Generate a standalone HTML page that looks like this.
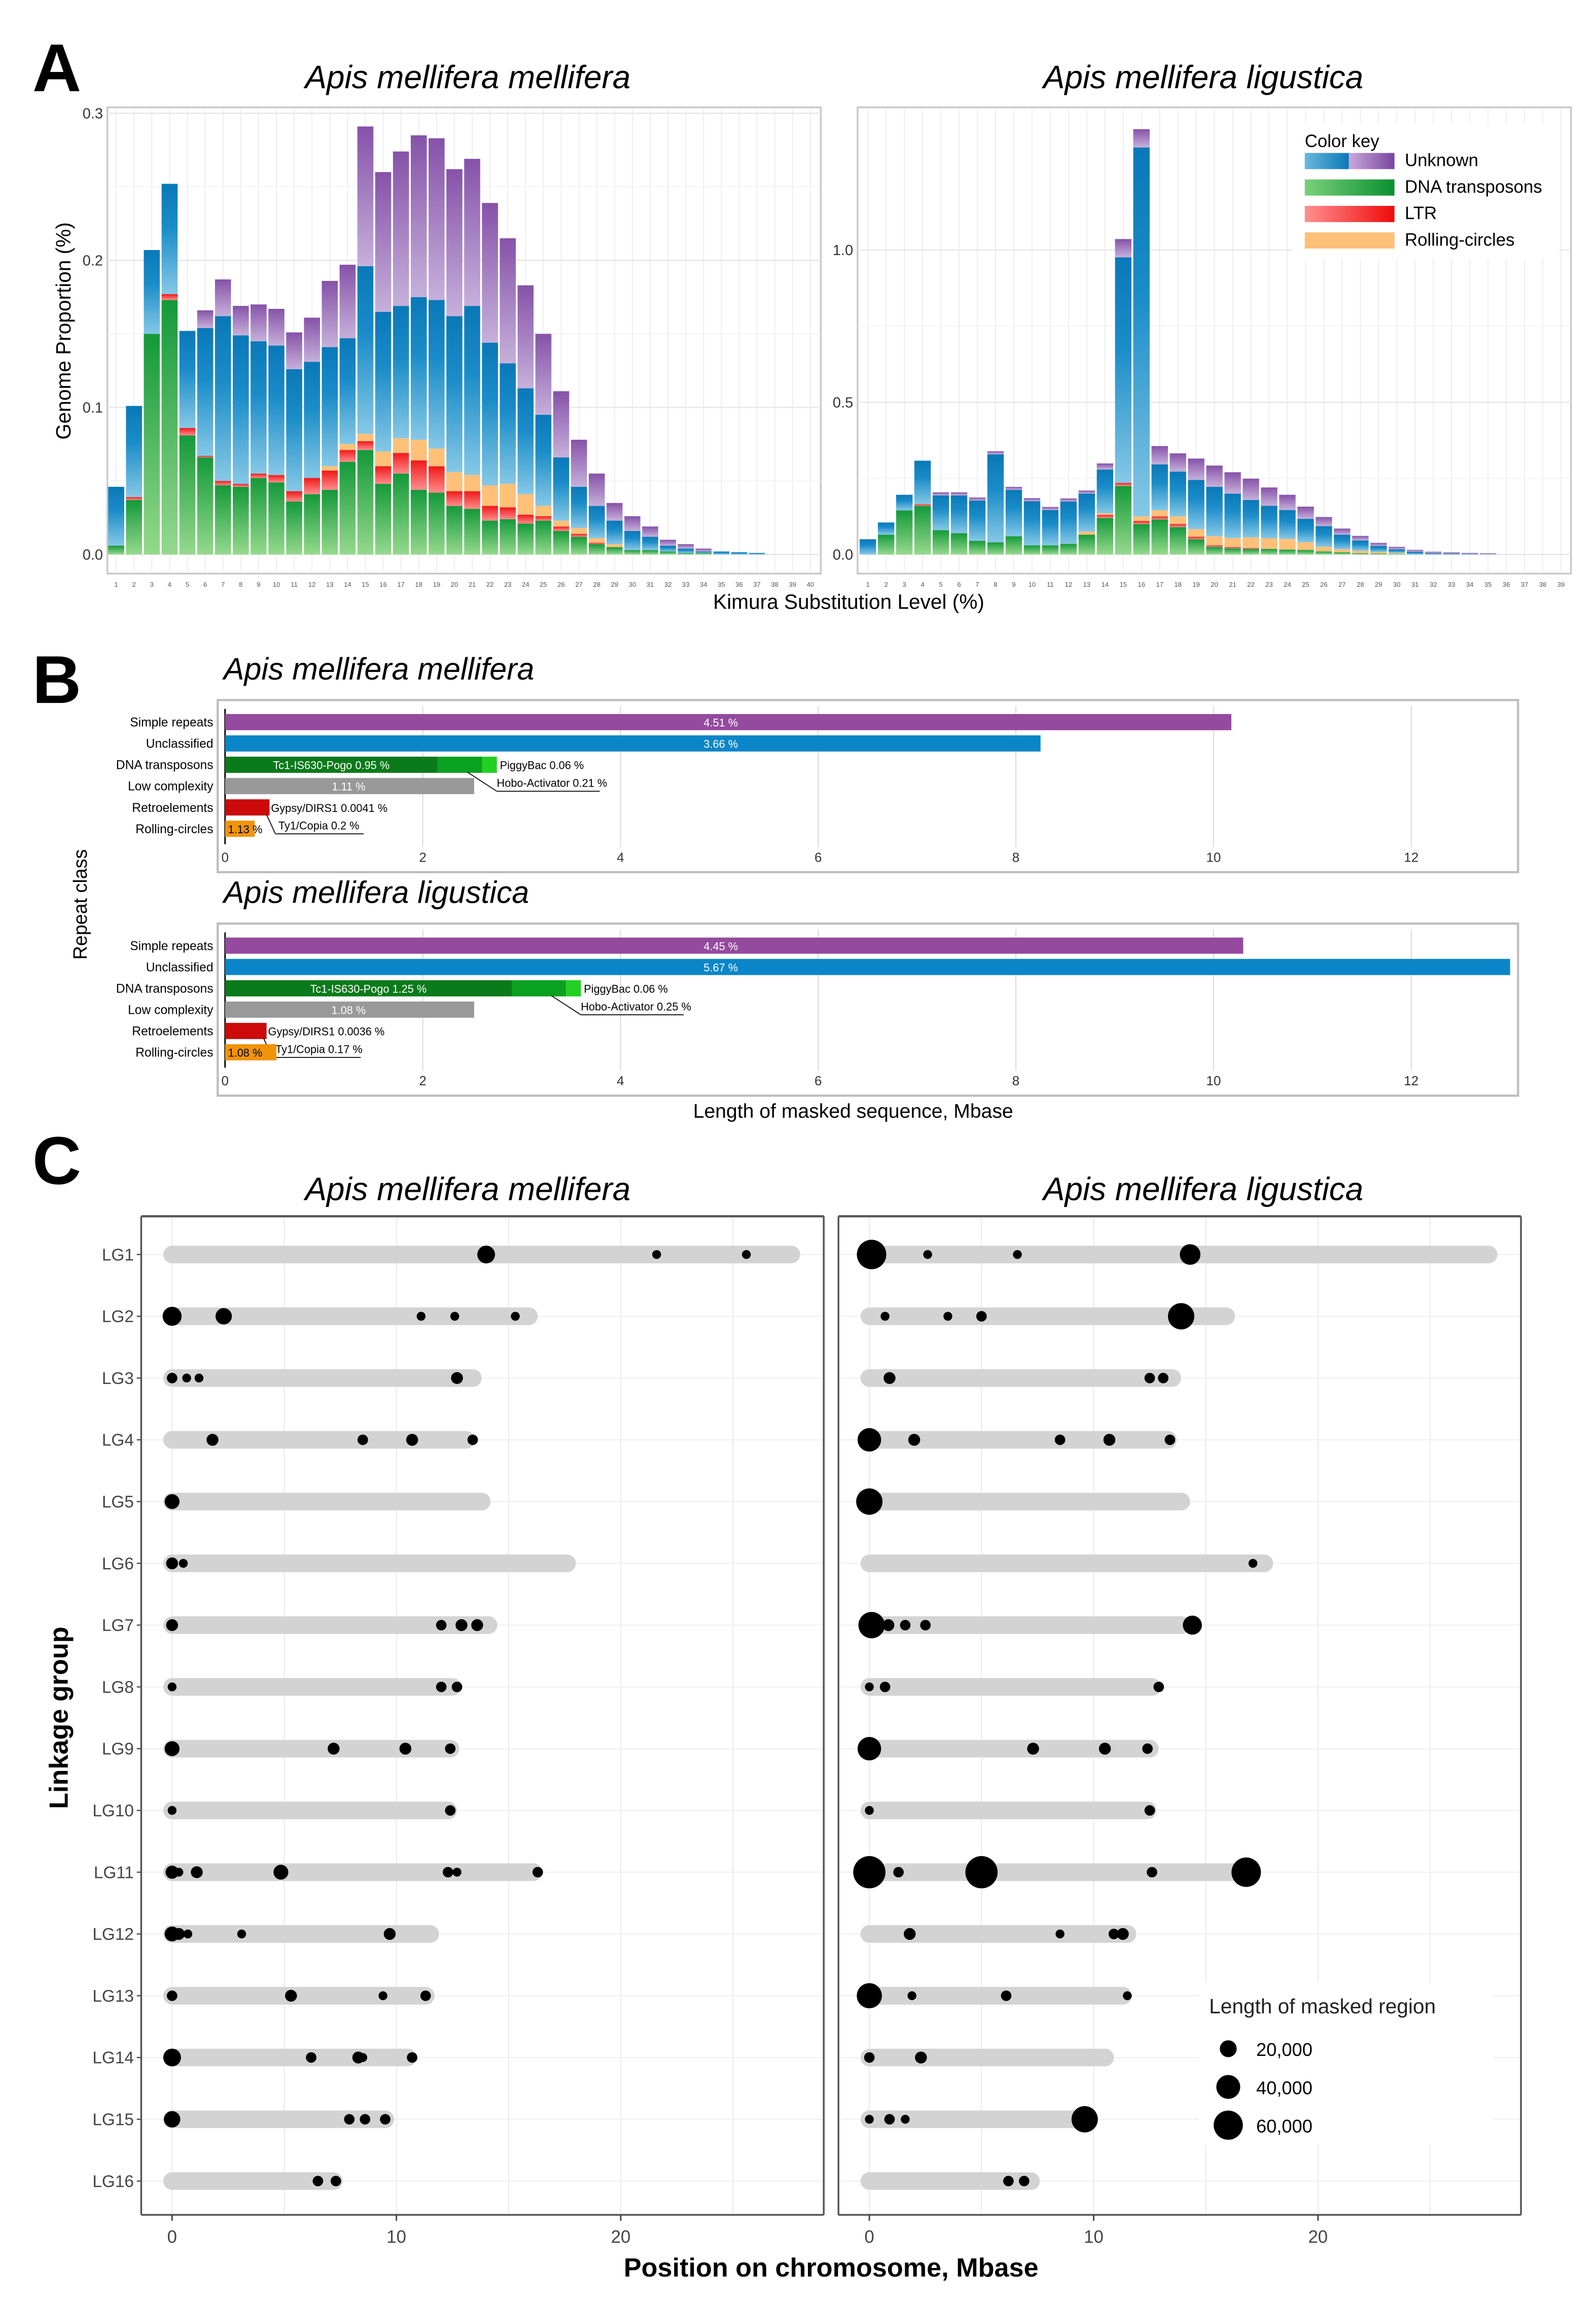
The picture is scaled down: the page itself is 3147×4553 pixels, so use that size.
<!DOCTYPE html>
<html><head><meta charset="utf-8"><style>
html,body{margin:0;padding:0;background:#fff;}
svg{display:block;font-family:"Liberation Sans",sans-serif;}
</style></head><body>
<svg id="fig" xmlns="http://www.w3.org/2000/svg" width="3147" height="4553" viewBox="0 0 1085 1570" preserveAspectRatio="none">
<defs>
<linearGradient id="gGreen" x1="0" y1="1" x2="0" y2="0"><stop offset="0" stop-color="#95d98c"/><stop offset="1" stop-color="#14993a"/></linearGradient>
<linearGradient id="gBlue" x1="0" y1="1" x2="0" y2="0"><stop offset="0" stop-color="#86c8e6"/><stop offset="0.6" stop-color="#1a8cc8"/><stop offset="1" stop-color="#0a78b8"/></linearGradient>
<linearGradient id="gPurple" x1="0" y1="1" x2="0" y2="0"><stop offset="0" stop-color="#c6b0db"/><stop offset="1" stop-color="#8652a8"/></linearGradient>
<linearGradient id="gRed" x1="0" y1="1" x2="0" y2="0"><stop offset="0" stop-color="#ff8c8c"/><stop offset="1" stop-color="#f01818"/></linearGradient>
<linearGradient id="hBlue" x1="0" y1="0" x2="1" y2="0"><stop offset="0" stop-color="#6ab8dc"/><stop offset="1" stop-color="#0a78b8"/></linearGradient>
<linearGradient id="hPurple" x1="0" y1="0" x2="1" y2="0"><stop offset="0" stop-color="#c8a8d8"/><stop offset="1" stop-color="#7a44a0"/></linearGradient>
<linearGradient id="hGreen" x1="0" y1="0" x2="1" y2="0"><stop offset="0" stop-color="#7ad07a"/><stop offset="1" stop-color="#0a9030"/></linearGradient>
<linearGradient id="hRed" x1="0" y1="0" x2="1" y2="0"><stop offset="0" stop-color="#ff9090"/><stop offset="1" stop-color="#f00a0a"/></linearGradient>
</defs>
<g id="root"></g>
</svg>
<script>
// ---------- Panel A data ----------
const aLeftTotal=[0.046,0.101,0.207,0.252,0.152,0.166,0.187,0.169,0.170,0.167,0.151,0.161,0.186,0.197,0.291,0.260,0.274,0.285,0.283,0.262,0.269,0.239,0.215,0.183,0.150,0.111,0.078,0.055,0.035,0.026,0.019,0.010,0.007,0.004,0.002,0.0015,0.001,0,0,0];
const aLeftDNA=[0.006,0.037,0.150,0.173,0.081,0.066,0.047,0.046,0.052,0.049,0.036,0.041,0.044,0.063,0.071,0.048,0.055,0.044,0.042,0.033,0.031,0.023,0.024,0.021,0.023,0.016,0.012,0.007,0.005,0.003,0.003,0.002,0.001,0.001,0,0,0,0,0,0];
const aLeftLTR=[0,0.002,0,0.004,0.005,0.001,0.003,0.002,0.003,0.005,0.007,0.011,0.013,0.008,0.006,0.012,0.014,0.020,0.018,0.010,0.012,0.010,0.008,0.006,0.003,0.003,0.002,0.001,0,0,0,0,0,0,0,0,0,0,0,0];
const aLeftRC=[0,0,0,0,0,0,0,0,0,0,0,0,0.003,0.004,0.005,0.010,0.010,0.014,0.012,0.013,0.011,0.014,0.016,0.014,0.007,0.004,0.004,0.003,0.002,0,0,0,0,0,0,0,0,0,0,0];
const aLeftPurple=[0,0,0,0,0,0.012,0.025,0.02,0.025,0.025,0.025,0.03,0.045,0.05,0.095,0.095,0.105,0.11,0.11,0.1,0.1,0.095,0.085,0.07,0.055,0.045,0.032,0.022,0.012,0.01,0.007,0.004,0.003,0.002,0,0,0,0,0,0];
const aRightTotal=[0.05,0.105,0.196,0.308,0.204,0.204,0.187,0.339,0.222,0.185,0.156,0.184,0.21,0.299,1.036,1.397,0.356,0.332,0.315,0.292,0.27,0.249,0.22,0.196,0.157,0.123,0.085,0.061,0.038,0.025,0.015,0.009,0.007,0.005,0.004,0,0,0,0];
const aRightDNA=[0,0.065,0.145,0.16,0.08,0.07,0.045,0.04,0.06,0.03,0.03,0.035,0.065,0.12,0.225,0.1,0.115,0.09,0.05,0.025,0.02,0.018,0.018,0.016,0.015,0.01,0.007,0.004,0.003,0.002,0,0,0,0,0,0,0,0,0];
const aRightLTR=[0,0,0,0.005,0,0,0,0,0,0,0,0,0,0.01,0.01,0.01,0.01,0.01,0.008,0.005,0.004,0.003,0,0,0,0,0,0,0,0,0,0,0,0,0,0,0,0,0];
const aRightRC=[0,0,0,0,0,0,0,0,0,0,0,0,0.01,0.005,0,0.015,0.02,0.025,0.025,0.03,0.03,0.035,0.035,0.035,0.025,0.015,0.01,0.008,0.005,0.003,0,0,0,0,0,0,0,0,0];
const aRightPurple=[0,0,0,0,0.01,0.01,0.01,0.01,0.01,0.01,0.01,0.01,0.01,0.02,0.06,0.06,0.06,0.06,0.07,0.07,0.07,0.07,0.06,0.05,0.04,0.03,0.02,0.015,0.01,0.008,0.006,0.005,0.004,0.003,0.003,0,0,0,0];
const aLeftTicks=[0,0.1,0.2,0.3];
const aRightTicks=[0,0.5,1.0];

// ---------- Panel B data ----------
const bClasses=["Simple repeats","Unclassified","DNA transposons","Low complexity","Retroelements","Rolling-circles"];
const bTop=[10.18,8.25,2.15,2.52,0.45,0.30];
const bTopDNA2=[2.6,2.75];
const bBot=[10.3,13.0,2.9,2.52,0.42,0.52];
const bBotDNA2=[3.45,3.6];
const bTicks=[0,2,4,6,8,10,12];

// ---------- Panel C data ----------
const lgNames=["LG1","LG2","LG3","LG4","LG5","LG6","LG7","LG8","LG9","LG10","LG11","LG12","LG13","LG14","LG15","LG16"];
const cLenL=[28.0,16.3,13.8,13.5,14.2,18.0,14.5,12.9,12.8,12.7,16.5,11.9,11.7,10.9,9.9,7.6];
const cLenR=[28.0,16.3,13.9,13.7,14.3,18.0,14.3,13.0,12.9,12.8,16.8,11.9,11.7,10.9,9.9,7.6];
const cDotsL=[
[[14.0,20],[21.6,5],[25.6,5]],
[[0,23],[2.3,17],[11.1,5],[12.6,5],[15.3,5]],
[[0,7],[0.65,5],[1.2,5],[12.7,9]],
[[1.8,9],[8.5,7],[10.7,9],[13.4,7]],
[[0,14]],
[[0,9],[0.5,5]],
[[0,9],[12.0,7],[12.9,9],[13.6,9]],
[[0,5],[12.0,7],[12.7,7]],
[[0,14],[7.2,9],[10.4,9],[12.4,7]],
[[0,5],[12.4,7]],
[[0,11],[0.3,5],[1.1,9],[4.85,14],[12.3,7],[12.7,5],[16.3,7]],
[[0,14],[0.3,9],[0.7,5],[3.1,5],[9.7,9]],
[[0,7],[5.3,9],[9.4,5],[11.3,7]],
[[0,20],[6.2,7],[8.3,9],[8.5,5],[10.7,7]],
[[0,17],[7.9,7],[8.6,7],[9.5,7]],
[[6.5,7],[7.3,7]]];
const cDotsR=[
[[0.1,55],[2.6,5],[6.6,5],[14.3,27]],
[[0.7,5],[3.5,5],[5.0,7],[13.9,44]],
[[0.9,9],[12.5,7],[13.1,7]],
[[0,35],[2.0,9],[8.5,7],[10.7,9],[13.4,7]],
[[0,44]],
[[17.1,5]],
[[0.1,44],[0.85,9],[1.6,7],[2.5,7],[14.4,23]],
[[0,5],[0.7,7],[12.9,7]],
[[0,35],[7.3,9],[10.5,9],[12.4,7]],
[[0,5],[12.5,7]],
[[0,66],[1.3,7],[5.0,66],[12.6,7],[16.8,55]],
[[1.8,9],[8.5,5],[10.9,7],[11.3,9]],
[[0,40],[1.9,5],[6.1,7],[11.5,5]],
[[0,7],[2.3,9]],
[[0,5],[0.9,7],[1.6,5],[9.6,44]],
[[6.2,7],[6.9,7]]];
const cLegendSizes=[20,40,60];
const cLegendLabels=["20,000","40,000","60,000"];

const NS="http://www.w3.org/2000/svg";
const root=document.getElementById('root');
function el(tag,attrs,parent){const e=document.createElementNS(NS,tag);for(const k in attrs)e.setAttribute(k,attrs[k]);(parent||root).appendChild(e);return e;}
function txt(s,attrs,parent){const e=el('text',attrs,parent);e.textContent=s;return e;}

let t;
t=txt("A",{x:22,y:62,"font-size":46,"font-weight":"bold"});

t=txt("B",{x:22,y:478,"font-size":46,"font-weight":"bold"});

t=txt("C",{x:22,y:805,"font-size":46,"font-weight":"bold"});

t=txt("Apis mellifera mellifera",{x:318,y:60,"font-size":22,"font-style":"italic","text-anchor":"middle"});

t=txt("Apis mellifera ligustica",{x:818,y:60,"font-size":22,"font-style":"italic","text-anchor":"middle"});


// ---------- Panel A ----------
function drawA(px0,px1,y0v,yScale,n,x0,step,total,dna,ltr,rc,purple,ticks,name){
  const g=el('g',{});
  
  el('rect',{x:px0,y:73,width:px1-px0,height:317,fill:"#fff",stroke:"#c8c8c8","stroke-width":1.2},g);
  const yv=v=>y0v-v*yScale;
  for(let i=0;i<n;i++){const x=x0+i*step;el('line',{x1:x,x2:x,y1:74,y2:389,stroke:"#ececec","stroke-width":0.6},g);}
  ticks.forEach((tv,i)=>{const y=yv(tv);el('line',{x1:px0,x2:px1,y1:y,y2:y,stroke:"#e6e6e6","stroke-width":0.8},g);
    const tl=txt(tv.toFixed(1),{x:px0-3,y:y+3.5,"font-size":10,"text-anchor":"end",fill:"#333"},g);
    
    if(i<ticks.length-1){const ym=yv((tv+ticks[i+1])/2);el('line',{x1:px0,x2:px1,y1:ym,y2:ym,stroke:"#f2f2f2","stroke-width":0.6},g);}
  });
  const bw=step*0.9;
  for(let i=0;i<n;i++){
    const cx=x0+i*step;
    const segs=[[dna[i],"url(#gGreen)"],[ltr[i],"url(#gRed)"],[rc[i],"#ffc078"]];
    let other=dna[i]+ltr[i]+rc[i];
    let blue=Math.max(0,total[i]-other-purple[i]);
    segs.push([blue,"url(#gBlue)"]);segs.push([Math.min(purple[i],Math.max(0,total[i]-other)),"url(#gPurple)"]);
    let acc=0;
    segs.forEach(s=>{if(s[0]<=0)return;const r=el('rect',{x:cx-bw/2,y:yv(acc+s[0]),width:bw,height:s[0]*yScale,fill:s[1]},g);
      acc+=s[0];});
    const tl=txt(String(i+1),{x:cx,y:399,"font-size":4.5,"text-anchor":"middle",fill:"#555"},g);
    
  }
}
drawA(73,558,377,1000,40,79,12.1,aLeftTotal,aLeftDNA,aLeftLTR,aLeftRC,aLeftPurple,aLeftTicks,'chart-a-mellifera');
drawA(583,1068,377,207,39,590,12.4,aRightTotal,aRightDNA,aRightLTR,aRightRC,aRightPurple,aRightTicks,'chart-a-ligustica');
t=txt("Genome Proportion (%)",{x:0,y:0,"font-size":14,"text-anchor":"middle",transform:"translate(48,225) rotate(-90)"});

t=txt("Kimura Substitution Level (%)",{x:577,y:414,"font-size":14,"text-anchor":"middle"});

const key=el('g',{});
el('rect',{x:878,y:84,width:182,height:92,fill:"#fff"},key);
txt("Color key",{x:887,y:100,"font-size":12},key);
el('rect',{x:887,y:104,width:30,height:11,fill:"url(#hBlue)"},key);
el('rect',{x:917,y:104,width:31,height:11,fill:"url(#hPurple)"},key);
el('rect',{x:887,y:122,width:61,height:11,fill:"url(#hGreen)"},key);
el('rect',{x:887,y:140,width:61,height:11,fill:"url(#hRed)"},key);
el('rect',{x:887,y:158,width:61,height:11,fill:"#ffc078"},key);
["Unknown","DNA transposons","LTR","Rolling-circles"].forEach((s,i)=>{const l=txt(s,{x:955,y:113+i*18,"font-size":12},key);
  });

// ---------- Panel B ----------
function drawB(top,vals,dna2,title,name){
  const g=el('g',{});
  const tt=txt(title,{x:152,y:top-14,"font-size":21,"font-style":"italic"},g);
  
  el('rect',{x:148,y:top,width:884,height:117,fill:"#fff",stroke:"#bdbdbd","stroke-width":1.5},g);
  const xs=v=>153+v*67.2;
  bTicks.forEach(tv=>{const x=xs(tv);if(tv>0)el('line',{x1:x,x2:x,y1:top+4,y2:top+100,stroke:"#dedede","stroke-width":0.8},g);
    const l=txt(String(tv),{x:x,y:top+110,"font-size":9,"text-anchor":"middle",fill:"#333"},g);
    });
  el('line',{x1:153,x2:153,y1:top+6,y2:top+98,stroke:"#000","stroke-width":1},g);
  const fills=["#944a9e","#0a86c8","#0a7a1a","#999999","#cc0a0a","#f0940a"];
  const mell=name.includes('mell');
  const labels=[mell?"4.51 %":"4.45 %",mell?"3.66 %":"5.67 %",null,mell?"1.11 %":"1.08 %",null,null];
  bClasses.forEach((c,i)=>{const y=top+15+i*14.5;
    const l=txt(c,{x:145,y:y+3,"font-size":8.5,"text-anchor":"end"},g);
    const r=el('rect',{x:153,y:y-5.5,width:xs(vals[i])-153,height:11,fill:fills[i]},g);
    
    if(labels[i]){const bl=txt(labels[i],{x:(i<2?490:237),y:y+3,"font-size":7.5,"text-anchor":"middle",fill:"#fff"},g);
      }
    if(i===2){const r2=el('rect',{x:xs(vals[2]),y:y-5.5,width:xs(dna2[0])-xs(vals[2]),height:11,fill:"#0aa020"},g);
      
      const r3=el('rect',{x:xs(dna2[0]),y:y-5.5,width:xs(dna2[1])-xs(dna2[0]),height:11,fill:"#22d022"},g);
      
      txt("Tc1-IS630-Pogo "+(mell?"0.95 %":"1.25 %"),{x:(153+xs(vals[2]))/2,y:y+3,"font-size":7.5,"text-anchor":"middle",fill:"#fff"},g);
      txt("PiggyBac 0.06 %",{x:xs(dna2[1])+2,y:y+3,"font-size":7.5},g);
      const hx=xs(dna2[0])-10;el('line',{x1:hx,y1:y+5,x2:hx+20,y2:y+18,stroke:"#000","stroke-width":0.6},g);
      el('line',{x1:hx+20,y1:y+18,x2:hx+90,y2:y+18,stroke:"#000","stroke-width":0.6},g);
      txt("Hobo-Activator "+(mell?"0.21 %":"0.25 %"),{x:hx+20,y:y+15,"font-size":7.5},g);}
    if(i===4){txt("Gypsy/DIRS1 "+(mell?"0.0041 %":"0.0036 %"),{x:xs(vals[4])+1,y:y+3,"font-size":7.5},g);
      const hx=xs(vals[4])-2;el('line',{x1:hx,y1:y+5,x2:hx+6,y2:y+18,stroke:"#000","stroke-width":0.6},g);
      el('line',{x1:hx+6,y1:y+18,x2:hx+66,y2:y+18,stroke:"#000","stroke-width":0.6},g);
      txt("Ty1/Copia "+(mell?"0.2 %":"0.17 %"),{x:hx+8,y:y+15,"font-size":7.5},g);}
    if(i===5){txt(mell?"1.13 %":"1.08 %",{x:155,y:y+3,"font-size":7.5},g);}
  });
}
drawB(476,bTop,bTopDNA2,"Apis mellifera mellifera",'chart-b-mellifera');
drawB(628,bBot,bBotDNA2,"Apis mellifera ligustica",'chart-b-ligustica');
t=txt("Repeat class",{x:0,y:0,"font-size":13,"text-anchor":"middle",transform:"translate(59,615) rotate(-90)"});

t=txt("Length of masked sequence, Mbase",{x:580,y:760,"font-size":13.5,"text-anchor":"middle"});


// ---------- Panel C ----------
t=txt("Apis mellifera mellifera",{x:318,y:816,"font-size":22,"font-style":"italic","text-anchor":"middle"});

t=txt("Apis mellifera ligustica",{x:818,y:816,"font-size":22,"font-style":"italic","text-anchor":"middle"});

const rad=k=>1.35*Math.sqrt(k);
function drawC(bx,x0,lens,dots,showLabels,name){
  const g=el('g',{});
  const xs=v=>x0+v*15.25, ys=i=>853+i*42;
  el('rect',{x:bx,y:827,width:464,height:679,fill:"#fff"},g);
  [0,5,10,15,20,25].forEach(v=>el('line',{x1:xs(v),x2:xs(v),y1:828,y2:1505,stroke:"#ececec","stroke-width":0.8},g));
  lens.forEach((L,i)=>{el('line',{x1:bx,x2:bx+464,y1:ys(i),y2:ys(i),stroke:"#f0f0f0","stroke-width":0.8},g);
    const b=el('line',{x1:xs(0),x2:xs(L)-6,y1:ys(i),y2:ys(i),stroke:"#d3d3d3","stroke-width":12,"stroke-linecap":"round"},g);
    
    if(showLabels){const l=txt(lgNames[i],{x:bx-5,y:ys(i)+4,"font-size":11.5,"text-anchor":"end",fill:"#444"},g);
      
      el('line',{x1:bx-3,x2:bx,y1:ys(i),y2:ys(i),stroke:"#444","stroke-width":0.8},g);}
    dots[i].forEach(d=>{const c=el('circle',{cx:xs(d[0]),cy:ys(i),r:rad(d[1]),fill:"#000"},g);
      });
  });
  el('line',{x1:bx,x2:bx,y1:827,y2:1506,stroke:"#555","stroke-width":1.2},g);
  el('line',{x1:bx+464,x2:bx+464,y1:827,y2:1506,stroke:"#555","stroke-width":1.2},g);
  el('line',{x1:bx,x2:bx+464,y1:827,y2:827,stroke:"#555","stroke-width":1.5},g);
  el('line',{x1:bx,x2:bx+464,y1:1506,y2:1506,stroke:"#555","stroke-width":1.2},g);
  [0,10,20].forEach(v=>{el('line',{x1:xs(v),x2:xs(v),y1:1506,y2:1510,stroke:"#444"},g);
    const l=txt(String(v),{x:xs(v),y:1525,"font-size":12,"text-anchor":"middle",fill:"#444"},g);
    });
}
drawC(96,117,cLenL,cDotsL,true,'chart-c-mellifera');
drawC(570,591,cLenR,cDotsR,false,'chart-c-ligustica');
t=txt("Linkage group",{x:0,y:0,"font-size":18,"font-weight":"bold","text-anchor":"middle",transform:"translate(46,1168) rotate(-90)"});

t=txt("Position on chromosome, Mbase",{x:565,y:1548,"font-size":18,"font-weight":"bold","text-anchor":"middle"});

const lg=el('g',{});
el('rect',{x:815,y:1348,width:200,height:110,fill:"#fff"},lg);
txt("Length of masked region",{x:822,y:1369,"font-size":14,fill:"#222"},lg);
cLegendSizes.forEach((k,i)=>{el('circle',{cx:835,cy:1393+i*26,r:rad(k)*0.95,fill:"#000"},lg);
  const l=txt(cLegendLabels[i],{x:854,y:1398+i*26,"font-size":12.5},lg);
  });
</script>
</body></html>
